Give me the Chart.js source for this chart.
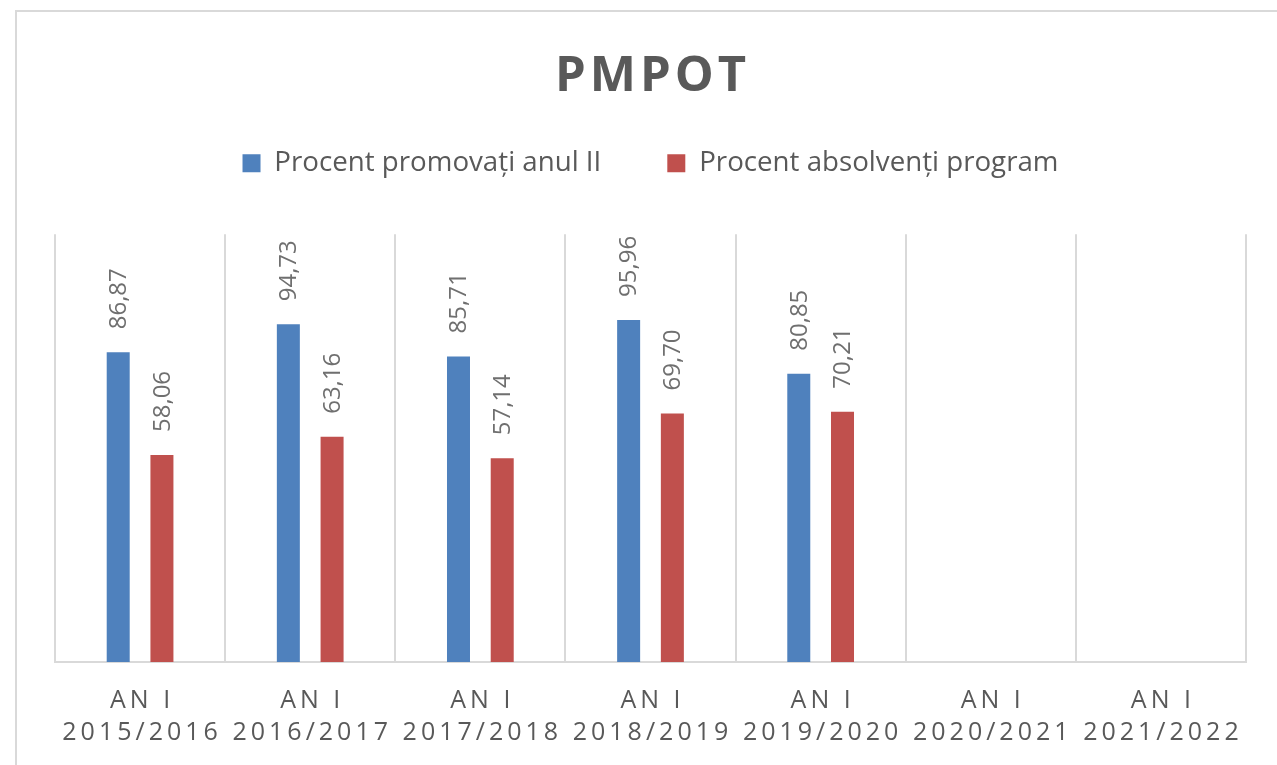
<!DOCTYPE html>
<html>
<head>
<meta charset="utf-8">
<script src="https://cdn.jsdelivr.net/npm/chart.js@4/dist/chart.umd.min.js"></script>
<style>
  html, body { margin: 0; padding: 0; background: #ffffff; }
  #wrap { width: 1277px; height: 765px; }
</style>
</head>
<body>
<div id="wrap"><canvas id="c" width="1277" height="765"></canvas></div>
<script>
// ---- Data ----
const chartTitle = 'PMPOT';
const categories = [
  ['AN I', '2015/2016'],
  ['AN I', '2016/2017'],
  ['AN I', '2017/2018'],
  ['AN I', '2018/2019'],
  ['AN I', '2019/2020'],
  ['AN I', '2020/2021'],
  ['AN I', '2021/2022']
];
const seriesNames = ['Procent promovați anul II', 'Procent absolvenți program'];
const promovati = [86.87, 94.73, 85.71, 95.96, 80.85, null, null];
const absolventi = [58.06, 63.16, 57.14, 69.70, 70.21, null, null];
const yMin = 0;
const yMax = 120;

// ---- Styling ----
const BLUE = '#4f81bd';
const RED = '#c0504d';
const TEXT = '#595959';
const LABEL = '#6f6f6f';
const GRID = '#d9d9d9';
const FONT = "'Open Sans', 'Noto Sans', sans-serif";

function fmt(v) { return v.toFixed(2).replace('.', ','); }

// Outer frame (top & left edges visible in the reference)
const framePlugin = {
  id: 'frame',
  beforeDraw(chart) {
    const ctx = chart.ctx;
    ctx.save();
    ctx.strokeStyle = GRID;
    ctx.lineWidth = 2;
    ctx.strokeRect(16, 11, 1400, 900);
    ctx.restore();
  }
};

// Letter spacing for the title and category labels
function withSpacing(ctx, px, fn) {
  ctx.save();
  ctx.letterSpacing = px + 'px';
  ctx.translate(px / 2, 0);
  fn();
  ctx.restore();
}
const spacingPlugin = {
  id: 'spacing',
  beforeDraw(chart) {
    const ctx = chart.ctx;
    const t = chart.titleBlock;
    if (t && !t._ls) {
      const orig = t.draw.bind(t);
      t.draw = function (a) { withSpacing(ctx, 4, () => orig(a)); };
      t._ls = true;
    }
    const x = chart.scales.x;
    if (x && !x._ls) {
      const origL = x.drawLabels.bind(x);
      x.drawLabels = function (a) { withSpacing(ctx, 4, () => origL(a)); };
      x._ls = true;
    }
  }
};

// Rotated value labels above bars
const valueLabels = {
  id: 'valueLabels',
  afterDatasetsDraw(chart) {
    const ctx = chart.ctx;
    ctx.save();
    ctx.font = "24px " + FONT;
    ctx.fillStyle = LABEL;
    ctx.textAlign = 'left';
    ctx.textBaseline = 'middle';
    chart.data.datasets.forEach((ds, di) => {
      const meta = chart.getDatasetMeta(di);
      meta.data.forEach((el, i) => {
        const v = ds.data[i];
        if (v === null || v === undefined) return;
        ctx.save();
        ctx.translate(el.x + 1, el.y - 23);
        ctx.rotate(-Math.PI / 2);
        ctx.fillText(fmt(v), 0, 0);
        ctx.restore();
      });
    });
    ctx.restore();
  }
};

new Chart(document.getElementById('c'), {
  type: 'bar',
  data: {
    labels: categories,
    datasets: [
      { label: seriesNames[0], data: promovati, backgroundColor: BLUE, borderWidth: 0,
        categoryPercentage: 0.514, barPercentage: 0.526 },
      { label: seriesNames[1], data: absolventi, backgroundColor: RED, borderWidth: 0,
        categoryPercentage: 0.514, barPercentage: 0.526 }
    ]
  },
  options: {
    responsive: false,
    devicePixelRatio: 1,
    animation: false,
    layout: { padding: { left: 55, right: 31, top: 0, bottom: -7 } },
    plugins: {
      title: {
        display: true,
        text: chartTitle,
        color: TEXT,
        font: { family: FONT, size: 49, weight: 'bold', lineHeight: '13px' },
        padding: { top: 70.5, bottom: 0 }
      },
      subtitle: {
        display: true,
        text: '',
        weight: 500,
        font: { size: 1, lineHeight: 1 },
        padding: { top: 46, bottom: 0 }
      },
      legend: {
        position: 'top',
        labels: {
          boxWidth: 18,
          boxHeight: 18,
          padding: 66,
          color: TEXT,
          font: { family: FONT, size: 27.7 }
        }
      },
      tooltip: { enabled: false }
    },
    scales: {
      x: {
        grid: { display: true, offset: true, color: GRID, lineWidth: 2, drawTicks: false },
        border: { display: true, color: GRID, width: 2 },
        ticks: {
          color: TEXT,
          font: { family: FONT, size: 25, lineHeight: '32px' },
          padding: 23,
          maxRotation: 0,
          minRotation: 0,
          autoSkip: false
        }
      },
      y: {
        display: false,
        min: yMin,
        max: yMax
      }
    }
  },
  plugins: [framePlugin, spacingPlugin, valueLabels]
});
</script>
</body>
</html>
